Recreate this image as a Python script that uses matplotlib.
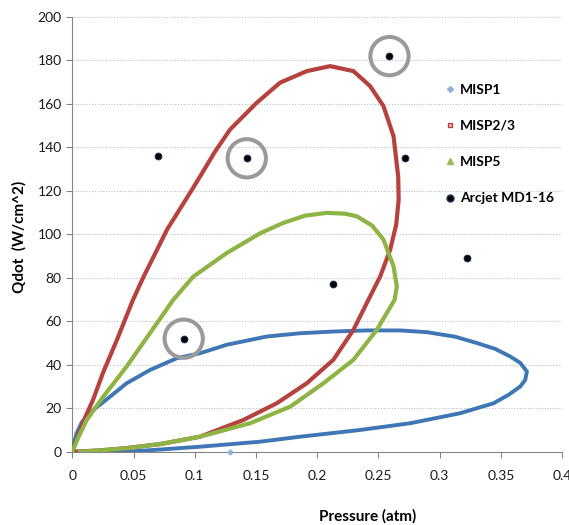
import matplotlib.pyplot as plt
from matplotlib.lines import Line2D

plt.rcParams['font.family'] = ['Lato', 'DejaVu Sans']

# MISP1 loop (pressure atm, Qdot W/cm^2)
misp1_p = [0, 0.0008, 0.0036, 0.0079, 0.0172, 0.0308, 0.0444, 0.0635, 0.0853, 0.1043,
           0.1261, 0.1588, 0.186, 0.2132, 0.24, 0.2677, 0.2895, 0.3127, 0.3304, 0.3453,
           0.3576, 0.3657, 0.3712, 0.3698, 0.3658, 0.356, 0.344, 0.3167, 0.2759, 0.235,
           0.186, 0.1533, 0.1043, 0.0717, 0.0444, 0.0226, 0.0063]
misp1_q = [0, 2.6, 8.5, 13.7, 19.2, 25.3, 31.5, 37.6, 43.0, 45.3,
           49.2, 53.0, 54.5, 55.3, 55.8, 55.8, 55.0, 52.9, 50.0, 47.3,
           43.8, 40.9, 36.9, 33.0, 30.0, 26.1, 22.3, 17.7, 13.1, 10.0,
           6.9, 4.6, 2.3, 1.0, 0, -0.1, -0.1]
misp1_stray_p = [0.129]
misp1_stray_q = [0]

# MISP2/3 loop
misp23_p = [0, 0.0096, 0.0169, 0.0251, 0.0365, 0.0496, 0.0578, 0.0774, 0.0978, 0.1043,
            0.1166, 0.1288, 0.1507, 0.1697, 0.1915, 0.2105, 0.2296, 0.2432, 0.2541, 0.2623,
            0.2661, 0.2665, 0.2645, 0.2596, 0.2514, 0.2418, 0.2296, 0.2132, 0.1915, 0.167,
            0.1397, 0.1043, 0.0717, 0.0444, 0.0226, 0]
misp23_q = [0, 14.6, 23.8, 36.3, 51.5, 69.9, 80.0, 102.2, 120.6, 126.6,
            138.1, 148.2, 160.6, 169.8, 175.1, 177.4, 175.1, 168.2, 159.0, 145.2,
            126.7, 116.0, 104.5, 93.0, 80.6, 69.9, 56.1, 42.3, 31.5, 22.3,
            14.6, 6.9, 3.5, 1.7, 0.6, 0]

# MISP5 loop
misp5_p = [0, 0.0047, 0.0118, 0.0253, 0.0444, 0.0635, 0.0825, 0.0989, 0.1261, 0.1534,
           0.1724, 0.1901, 0.2078, 0.2228, 0.2324, 0.2449, 0.2541, 0.2623, 0.265, 0.2632,
           0.2487, 0.2296, 0.2051, 0.1779, 0.1452, 0.1043, 0.0717, 0.0444, 0.0226, 0.0063]
misp5_q = [0, 6.3, 14.6, 25.3, 39.2, 54.6, 69.9, 80.6, 91.4, 100.5,
           105.3, 108.6, 109.9, 109.5, 108.3, 104.0, 97.6, 85.3, 76.0, 69.9,
           56.1, 42.3, 31.5, 20.7, 13.1, 6.9, 3.5, 1.6, 0.6, 0]

# Arcjet MD1-16 points
arc_p = [0.07, 0.1425, 0.259, 0.272, 0.322, 0.213, 0.091]
arc_q = [136, 135, 182, 135, 89, 77, 52]
highlight = [1, 2, 6]

fig = plt.figure(figsize=(5.69, 5.25), dpi=100)
ax = fig.add_axes([0.127, 0.1396, 0.861, 0.828])

blue, red, green = '#3F77B6', '#B5423E', '#8DB444'

ax.plot(misp1_p, misp1_q, color=blue, lw=2.8, solid_joinstyle='round', zorder=3)
ax.plot(misp1_stray_p, misp1_stray_q, marker='D', ms=2.5, color='#8FB0D8', ls='none',
        zorder=3, clip_on=False)
ax.plot(misp23_p, misp23_q, color=red, lw=3.0, solid_joinstyle='round', zorder=4)
ax.plot(misp5_p, misp5_q, color=green, lw=3.0, solid_joinstyle='round', zorder=5)

ax.plot(arc_p, arc_q, marker='o', ms=5, color='black', mec='#1F3A60', mew=0.6,
        ls='none', zorder=6)
ax.scatter([arc_p[i] for i in highlight], [arc_q[i] for i in highlight], s=760,
           facecolors='none', edgecolors='#9A9A9A', linewidths=2.9, zorder=6)

ax.set_xlim(0, 0.4)
ax.set_ylim(0, 200)
ax.set_xticks([0, 0.05, 0.1, 0.15, 0.2, 0.25, 0.3, 0.35, 0.4])
ax.set_xticklabels(['0', '0.05', '0.1', '0.15', '0.2', '0.25', '0.3', '0.35', '0.4'])
ax.set_yticks(range(0, 201, 20))
ax.grid(axis='y', color='#BBBBBB', linestyle=(0, (1, 1.5)), linewidth=0.8)
ax.set_axisbelow(True)
for s in ['top', 'right']:
    ax.spines[s].set_visible(False)
for s in ['left', 'bottom']:
    ax.spines[s].set_color('#868686')
ax.tick_params(axis='both', colors='#868686', labelcolor='#1a1a1a', labelsize=10,
               length=4, direction='out')
ax.tick_params(axis='x', pad=9)

fig.text(368 / 569, 1 - 516 / 525, 'Pressure (atm)', fontsize=11, fontweight='bold',
         ha='center', va='center')
fig.text(19 / 569, 1 - 237 / 525, 'Qdot  (W/cm^2)', fontsize=11, fontweight='bold',
         ha='center', va='center', rotation=90)

handles = [
    Line2D([], [], marker='D', ms=3, color='#8FB0D8', ls='none'),
    Line2D([], [], marker='s', ms=3.5, mfc='#F2C4C2', mec='#B23F3B', ls='none'),
    Line2D([], [], marker='^', ms=4, color='#9BBB59', ls='none'),
    Line2D([], [], marker='o', ms=5, color='black', mec='#1F3A60', ls='none'),
]
labels = ['MISP1', 'MISP2/3', 'MISP5', 'Arcjet MD1-16']
fig.legend(handles, labels, loc='upper left', bbox_to_anchor=(433 / 569, 1 - 71 / 525),
           frameon=False, prop={'weight': 'bold', 'size': 10}, labelspacing=1.75,
           handlelength=0.6, handletextpad=0.45)

fig.savefig('out.png', dpi=100)
